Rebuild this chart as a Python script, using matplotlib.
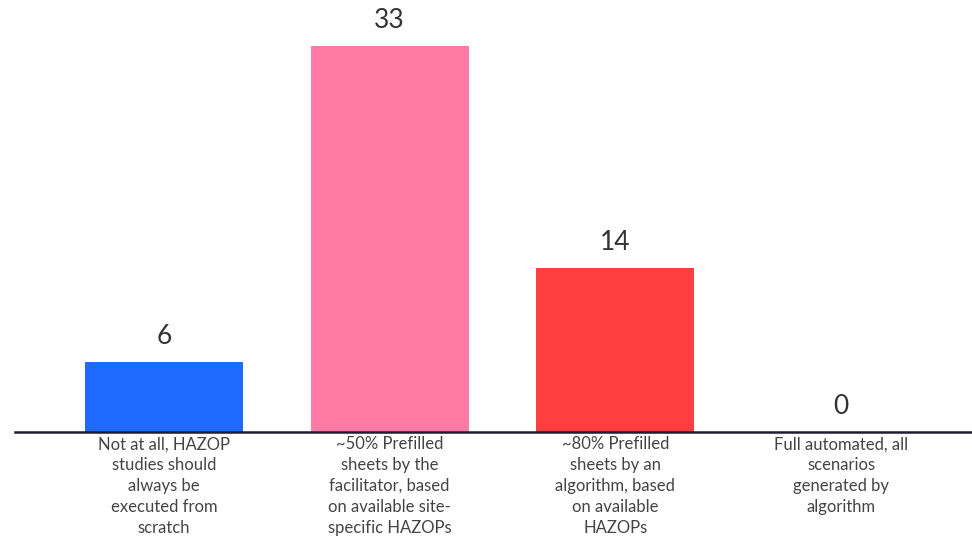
import matplotlib.pyplot as plt

# survey answers: how far should HAZOP sheets be prefilled
categories = [
    "Not at all, HAZOP\nstudies should\nalways be\nexecuted from\nscratch",
    "~50% Prefilled\nsheets by the\nfacilitator, based\non available site-\nspecific HAZOPs",
    "~80% Prefilled\nsheets by an\nalgorithm, based\non available\nHAZOPs",
    "Full automated, all\nscenarios\ngenerated by\nalgorithm",
]
counts = [6, 33, 14, 0]
colors = ["#1f6bff", "#ff7ba6", "#ff3f3f", "#ff3f3f"]

fig = plt.figure(figsize=(9.72, 5.4), dpi=100)
ax = fig.add_axes([15 / 972, 108 / 540, 957 / 972, 432 / 540])

x = range(len(counts))
bars = ax.bar(x, counts, width=0.7, color=colors)
for b, v in zip(bars, counts):
    ax.text(b.get_x() + b.get_width() / 2, v + 1.1, str(v),
            ha="center", va="bottom", fontsize=19, color="#333333",
            family="Lato")

ax.set_xlim(-0.66, 3.58)
ax.set_ylim(0, 36.9)
ax.set_xticks(list(x))
ax.set_xticklabels(categories, fontsize=12, color="#444444",
                   family="Lato", linespacing=1.38, va="top")
ax.tick_params(axis="x", length=0, pad=3)
ax.set_yticks([])
for s in ["top", "right", "left"]:
    ax.spines[s].set_visible(False)
ax.spines["bottom"].set_color("#1c1c33")
ax.spines["bottom"].set_linewidth(1.8)

fig.savefig("out.png", dpi=100)
